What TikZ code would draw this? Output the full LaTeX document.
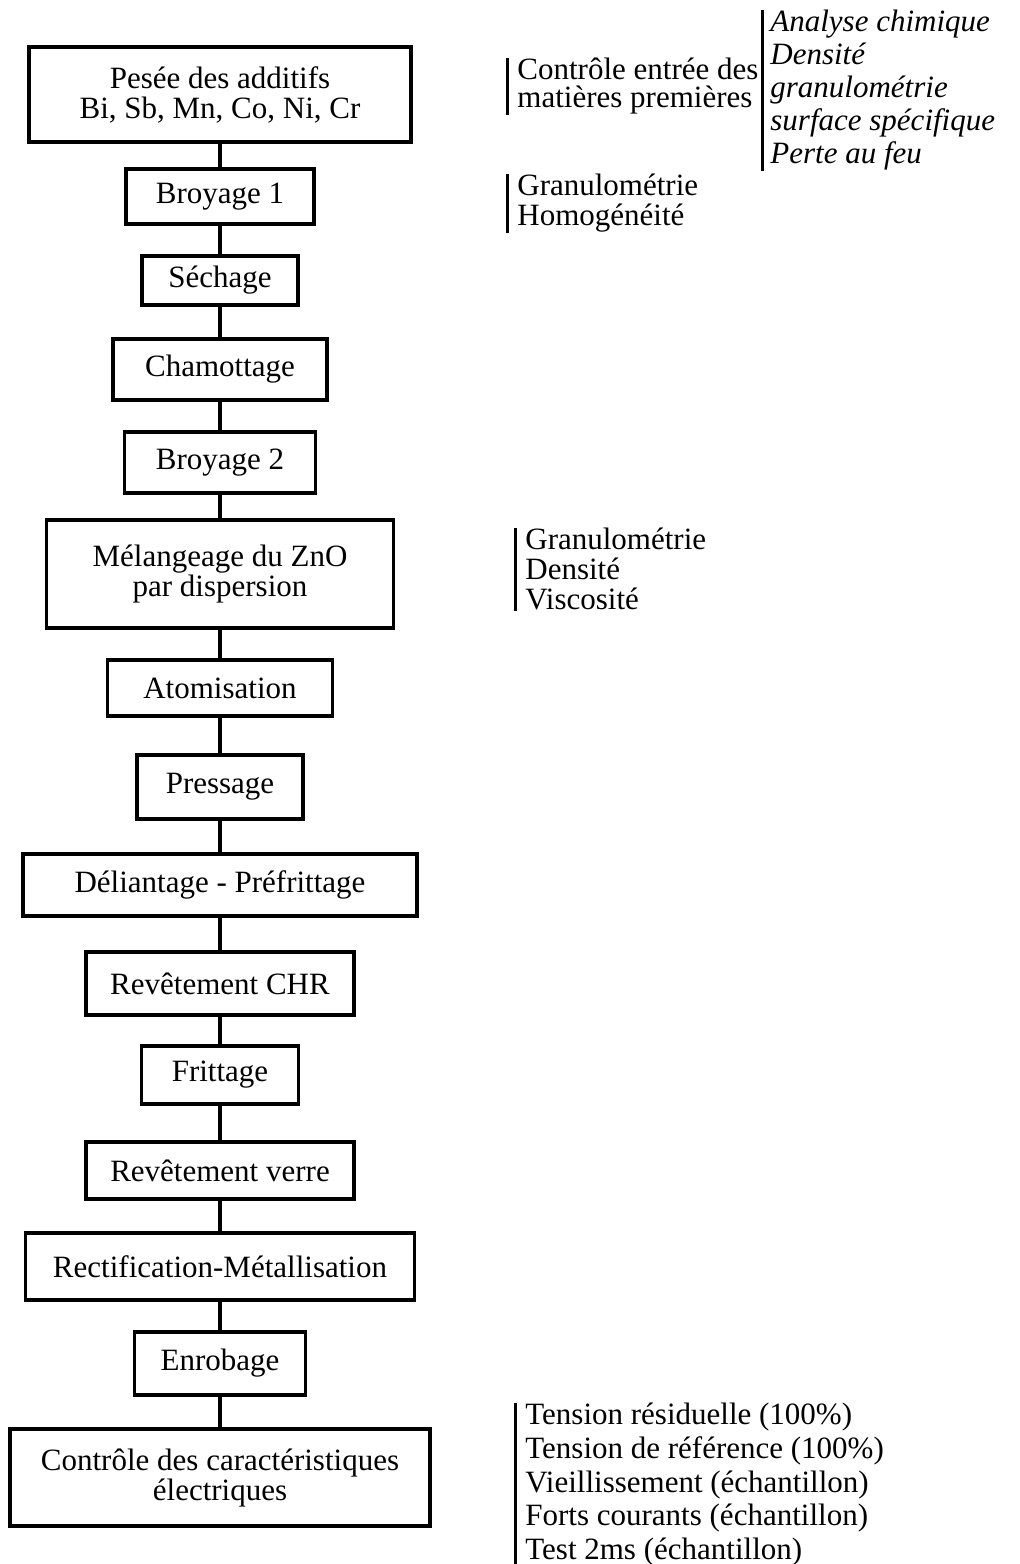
\documentclass[tikz,border=0pt]{standalone}
\usepackage{fontspec}
\setmainfont{Liberation Serif}

\begin{document}
\begin{tikzpicture}[x=0.5pt, y=-0.5pt,
    etape/.style={draw, line width=1.6pt, align=center, inner sep=0pt,
        font=\fontsize{15.5}{15}\selectfont},
    lien/.style={line width=1.6pt},
    essai/.style={align=left, anchor=north west, inner xsep=5pt, inner ysep=0pt,
        font=\fontsize{15.5}{15}\selectfont},
    barre/.style={line width=1.5pt}]

    \useasboundingbox (0,0) rectangle (1019,1564);

    % Process steps
    \node[etape, minimum width=191pt, minimum height=47.5pt] (pesee) at (220,94.5) {Pesée des additifs\\Bi, Sb, Mn, Co, Ni, Cr};
    \node[etape, minimum width=94pt, minimum height=27.5pt] (broyA) at (220,196.5) {Broyage 1};
    \node[etape, minimum width=78pt, minimum height=24.5pt] (sechage) at (220,280.5) {Séchage};
    \node[etape, minimum width=107pt, minimum height=30.5pt] (chamottage) at (220,369.5) {Chamottage};
    \node[etape, minimum width=95.5pt, minimum height=30.5pt] (broyB) at (220,462.5) {Broyage 2};
    \node[etape, minimum width=173.5pt, minimum height=54pt] (melange) at (220,574) {Mélangeage du ZnO\\par dispersion};
    \node[etape, minimum width=112.5pt, minimum height=28pt] (atomisation) at (220,688) {Atomisation};
    \node[etape, minimum width=83pt, minimum height=32pt] (pressage) at (220,787) {Pressage};
    \node[etape, minimum width=197pt, minimum height=31pt] (deliantage) at (220,885) {Déliantage - Préfrittage};
    \node[etape, minimum width=134pt, minimum height=31.5pt] (revchr) at (220,983.5) {Revêtement CHR};
    \node[etape, minimum width=78.5pt, minimum height=29pt] (frittage) at (220,1075) {Frittage};
    \node[etape, minimum width=134pt, minimum height=28.5pt] (revverre) at (220,1170.5) {Revêtement verre};
    \node[etape, minimum width=194.5pt, minimum height=33.5pt] (rectif) at (220,1266.5) {Rectification-Métallisation};
    \node[etape, minimum width=85.5pt, minimum height=31.5pt] (enrobage) at (220,1363.5) {Enrobage};
    \node[etape, minimum width=210pt, minimum height=48.5pt] (ctrlelec) at (220,1477.5) {Contrôle des caractéristiques\\électriques};

    % Links between steps
    \foreach \a/\b in {pesee/broyA, broyA/sechage, sechage/chamottage, chamottage/broyB,
        broyB/melange, melange/atomisation, atomisation/pressage, pressage/deliantage,
        deliantage/revchr, revchr/frittage, frittage/revverre, revverre/rectif,
        rectif/enrobage, enrobage/ctrlelec}
        \draw[lien] (\a) -- (\b);

    % Controls
    \node[essai, font=\fontsize{15.5}{14}\selectfont] (entree) at (507,58) {Contrôle entrée des\\matières premières};
    \draw[barre] (entree.north west) -- (entree.south west);

    \node[essai, inner xsep=4pt, font=\fontsize{15.5}{16.5}\selectfont\itshape] (analyses) at (762,10)
        {Analyse chimique\\Densité\\granulométrie\\surface spécifique\\Perte au feu};
    \draw[barre] (analyses.north west) -- (analyses.south west);

    \node[essai] (broyctrl) at (507,174) {Granulométrie\\Homogénéité};
    \draw[barre] (broyctrl.north west) -- (broyctrl.south west);

    \node[essai] (melctrl) at (515,528) {Granulométrie\\Densité\\Viscosité};
    \draw[barre] (melctrl.north west) -- (melctrl.south west);

    \node[essai, font=\fontsize{15.5}{16.8}\selectfont] (elecctrl) at (515,1403)
        {Tension résiduelle (100\%)\\Tension de référence (100\%)\\Vieillissement (échantillon)\\Forts courants (échantillon)\\Test 2ms (échantillon)};
    \draw[barre] (elecctrl.north west) -- (elecctrl.south west);
\end{tikzpicture}
\end{document}
